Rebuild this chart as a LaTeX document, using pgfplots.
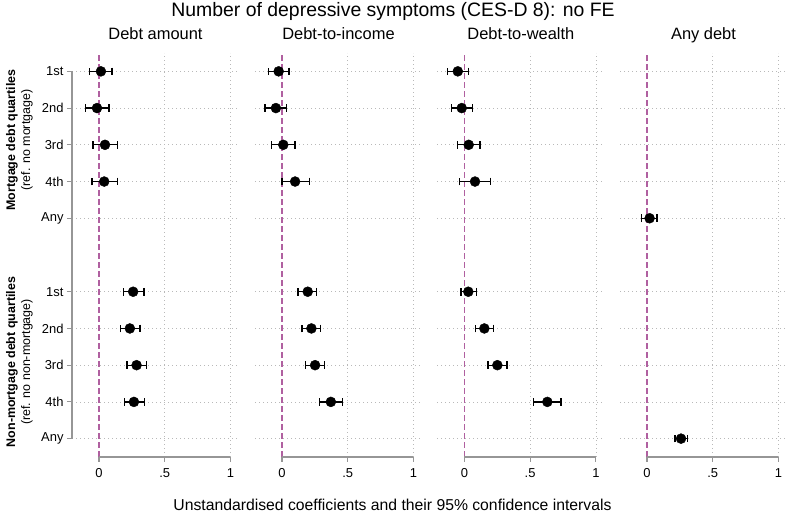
\documentclass[border=0pt]{standalone}
\usepackage{fontspec}
\setmainfont{Liberation Sans}
\usepackage{pgfplots}
\usepackage{pgfplotstable}
\pgfplotsset{compat=1.18}

\definecolor{zeroline}{RGB}{176,96,160}
\definecolor{axgray}{RGB}{150,150,150}
\definecolor{gridgray}{RGB}{185,185,185}

% y: 11..8 mortgage quartiles, 7 any mortgage, 5..2 non-mortgage quartiles, 1 any non-mortgage
\pgfplotstableread{
y b lo hi
11 0.015 -0.070 0.100
10 -0.015 -0.100 0.076
9 0.046 -0.046 0.139
8 0.040 -0.053 0.139
5 0.260 0.188 0.342
4 0.235 0.162 0.311
3 0.286 0.213 0.362
2 0.266 0.192 0.344
}\tabAmount

\pgfplotstableread{
y b lo hi
11 -0.025 -0.100 0.054
10 -0.046 -0.130 0.033
9 0.010 -0.077 0.100
8 0.100 0.000 0.210
5 0.196 0.122 0.263
4 0.224 0.153 0.293
3 0.252 0.181 0.321
2 0.372 0.288 0.459
}\tabIncome

\pgfplotstableread{
y b lo hi
11 -0.050 -0.126 0.030
10 -0.020 -0.100 0.064
9 0.033 -0.050 0.120
8 0.081 -0.038 0.200
5 0.030 -0.025 0.091
4 0.152 0.087 0.221
3 0.251 0.180 0.325
2 0.631 0.527 0.735
}\tabWealth

\pgfplotstableread{
y b lo hi
7 0.020 -0.040 0.076
1 0.259 0.213 0.310
}\tabAny

\pgfplotsset{
  panel/.style={
    scale only axis, width=167bp, height=404bp,
    xmin=-0.205, xmax=1.065, ymin=0.5, ymax=11.5,
    anchor=south west,
    axis line style={draw=none},
    xtick={0.5,1}, xticklabels={.5,1},
    extra x ticks={0}, extra x tick labels={0},
    extra x tick style={grid=none},
    ytick={1,2,3,4,5,7,8,9,10,11},
    yticklabels={Any,4th,3rd,2nd,1st,Any,4th,3rd,2nd,1st},
    xmajorgrids, ymajorgrids,
    major grid style={gridgray, line width=0.7bp, dash pattern=on 0.8bp off 3.2bp},
    tick align=outside, major tick length=5bp,
    tick style={axgray, line width=1.1bp},
    xtick pos=bottom, ytick pos=left,
    ticklabel style={font=\fontsize{13}{15}\selectfont},
    xticklabel style={yshift=-3bp},
    title style={font=\fontsize{16.5}{19}\selectfont, at={(0.5,1)}, anchor=base, yshift=7.3bp},
    clip=false,
  },
  noy/.style={yticklabels=\empty, y tick style={draw=none}},
  ci/.style={only marks, mark=*, mark size=5bp, black,
    error bars/.cd, x dir=both, x explicit,
    error bar style={line width=1.3bp, black},
    error mark options={black, line width=1.3bp, mark size=3.8bp, rotate=90}},
}

\newcommand{\panelbits}{%
  \draw[zeroline, line width=1.1bp, dash pattern=on 6bp off 3bp] (axis cs:0,0.5) -- (axis cs:0,11.5);
  \draw[axgray, line width=1.2bp] (axis cs:0,0.5) -- (axis cs:1,0.5);
}

\begin{document}
\begin{tikzpicture}
\path[use as bounding box] (0,0) rectangle (789bp,512bp);

\begin{axis}[panel, at={(72bp,55bp)}, title={Debt amount}]
\panelbits
\draw[axgray, line width=1.2bp] (axis cs:-0.205,1) -- (axis cs:-0.205,11);
\addplot[ci] table[x=b, y=y, x error plus expr=\thisrow{hi}-\thisrow{b}, x error minus expr=\thisrow{b}-\thisrow{lo}] {\tabAmount};
\end{axis}

\begin{axis}[panel, noy, at={(255bp,55bp)}, title={Debt-to-income}]
\panelbits
\addplot[ci] table[x=b, y=y, x error plus expr=\thisrow{hi}-\thisrow{b}, x error minus expr=\thisrow{b}-\thisrow{lo}] {\tabIncome};
\end{axis}

\begin{axis}[panel, noy, at={(437.4bp,55bp)}, title={Debt-to-wealth}]
\panelbits
\addplot[ci] table[x=b, y=y, x error plus expr=\thisrow{hi}-\thisrow{b}, x error minus expr=\thisrow{b}-\thisrow{lo}] {\tabWealth};
\end{axis}

\begin{axis}[panel, noy, at={(620bp,55bp)}, title={Any debt}]
\panelbits
\addplot[ci] table[x=b, y=y, x error plus expr=\thisrow{hi}-\thisrow{b}, x error minus expr=\thisrow{b}-\thisrow{lo}] {\tabAny};
\end{axis}

\node[anchor=base, font=\fontsize{19.5}{23}\selectfont] at (393bp,495.5bp)
  {Number of depressive symptoms (CES-D 8): no FE};
\node[anchor=base, font=\fontsize{15.8}{18}\selectfont] at (392.5bp,2bp)
  {Unstandardised coefficients and their 95\% confidence intervals};
\node[rotate=90, align=center, font=\fontsize{12.5}{15}\selectfont] at (19.5bp,372bp)
  {\textbf{Mortgage debt quartiles}\\(ref. no mortgage)};
\node[rotate=90, align=center, font=\fontsize{12.5}{15}\selectfont] at (19.5bp,150bp)
  {\textbf{Non-mortgage debt quartiles}\\(ref. no non-mortgage)};
\end{tikzpicture}
\end{document}
